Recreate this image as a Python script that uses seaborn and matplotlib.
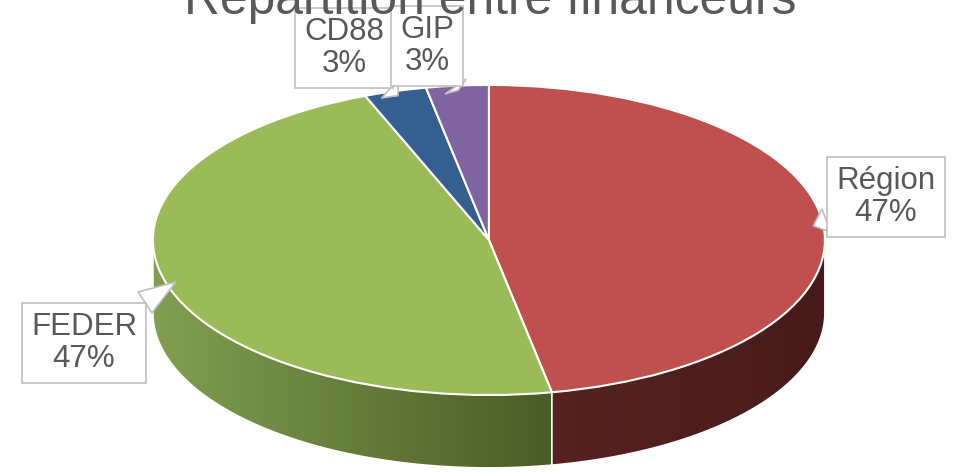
import numpy as np
import matplotlib
matplotlib.use("Agg")
import matplotlib.pyplot as plt
import seaborn as sns
from matplotlib.patches import Polygon
from matplotlib.colors import to_rgb

# données
financeurs = ["Région", "FEDER", "CD88", "GIP"]
parts = [47, 47, 3, 3]
couleurs = ["#C0504D", "#9BBB59", "#355E91", "#8064A2"]
# couleur des flancs (gauche -> droite)
flancs = [("#5a2423", "#471b1b"), ("#819f50", "#4a5c26"),
          ("#1e3654", "#1e3654"), ("#4a3a5e", "#4a3a5e")]

sns.set_theme(style="white")
plt.rcParams["font.family"] = ["Liberation Sans", "DejaVu Sans"]

fig = plt.figure(figsize=(9.58, 4.73), dpi=100)
ax = fig.add_axes([0, 0, 1, 1])
ax.axis("off")

ep = 0.47  # epaisseur du camembert
wedges, _ = ax.pie(parts, colors=couleurs, startangle=90, counterclock=False,
                   wedgeprops=dict(edgecolor="white", linewidth=1.5))
for w in wedges:
    w.set_zorder(5)


def hull(pts):
    pts = sorted(set(map(tuple, np.round(pts, 6))))
    def cross(o, a, b):
        return (a[0]-o[0])*(b[1]-o[1]) - (a[1]-o[1])*(b[0]-o[0])
    lower, upper = [], []
    for p in pts:
        while len(lower) >= 2 and cross(lower[-2], lower[-1], p) <= 0:
            lower.pop()
        lower.append(p)
    for p in reversed(pts):
        while len(upper) >= 2 and cross(upper[-2], upper[-1], p) <= 0:
            upper.pop()
        upper.append(p)
    return np.array(lower[:-1] + upper[:-1])


# flancs 3D : on dessine d'abord les parts du fond
def sin_mid(w):
    return np.sin(np.deg2rad((w.theta1 + w.theta2) / 2))

ordre = sorted(range(len(wedges)), key=lambda i: -sin_mid(wedges[i]))
for k, i in enumerate(ordre):
    w = wedges[i]
    c1, c2 = flancs[i]
    t = np.deg2rad(np.linspace(w.theta1, w.theta2, 120))
    arc = np.column_stack([np.cos(t), np.sin(t)])
    top = np.vstack([[0, 0], arc])
    bas = top - [0, ep]
    h = hull(np.vstack([top, bas]))
    x0, x1 = h[:, 0].min(), h[:, 0].max()
    y0, y1 = h[:, 1].min(), h[:, 1].max()
    g = np.linspace(0, 1, 256)[None, :, None]
    grad = (1 - g) * np.array(to_rgb(c1)) + g * np.array(to_rgb(c2))
    z = 2 + 0.1 * k
    img = ax.imshow(grad, extent=[x0, x1, y0, y1], aspect="auto", zorder=z,
                    interpolation="bilinear")
    img.set_clip_path(Polygon(h, closed=True, transform=ax.transData))
    ax.add_patch(Polygon(h, closed=True, fill=False, ec="white", lw=1.2,
                         zorder=z + 0.05))

ax.set_aspect("auto")
ax.set_xlim(-1.455, 1.396)
ax.set_ylim(-1.503, 1.548)

# étiquettes
pos = {"Région": (886, 276), "FEDER": (84, 130), "CD88": (344, 425), "GIP": (427, 427)}
total = sum(parts)
for w, nom, p in zip(wedges, financeurs, parts):
    mid = np.deg2rad((w.theta1 + w.theta2) / 2)
    xy = (0.97 * np.cos(mid), 0.97 * np.sin(mid))
    ax.annotate(f"{nom}\n{round(p / total * 100)}%", xy=xy, xytext=pos[nom],
                textcoords="figure pixels", ha="center", va="center",
                fontsize=22.5, color="#595959", linespacing=1.05, zorder=6,
                bbox=dict(boxstyle="square,pad=0.3", fc="white", ec="#bfbfbf", lw=1.2),
                arrowprops=dict(arrowstyle="wedge,tail_width=0.8,shrink_factor=0.5",
                                fc="white", ec="#bfbfbf", lw=1.2,
                                shrinkA=0, shrinkB=0))

fig.text(490 / 958, 1 - 14 / 473, "Répartition entre financeurs", ha="center",
         va="baseline", fontsize=35.8, color="#595959")

fig.savefig("out.png", dpi=100)
